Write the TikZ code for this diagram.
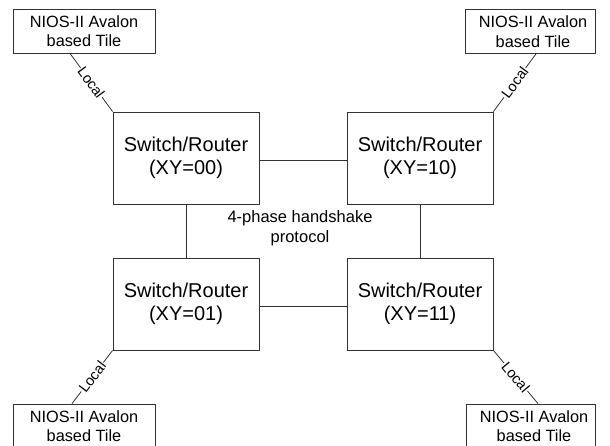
\documentclass[tikz,border=0pt]{standalone}
\usepackage{fontspec}
\setmainfont{Liberation Sans}
\begin{document}
\begin{tikzpicture}[x=1pt,y=-1pt,
  line/.style={draw=black!80,line width=0.8pt},
  tile/.style={line,rectangle,align=center,inner sep=0pt,font=\fontsize{16.3}{19.5}\selectfont},
  switchbox/.style={line,rectangle,align=center,inner sep=0pt,minimum width=146pt,minimum height=92pt,font=\fontsize{20}{23}\selectfont},
  loc/.style={sloped,fill=white,inner sep=0.8pt,font=\fontsize{14.5}{15}\selectfont},
  note/.style={align=center,inner sep=0pt,font=\fontsize{16.5}{19.5}\selectfont}]
\useasboundingbox (0,0) rectangle (610,446);
\clip (0,0) rectangle (610,446);
\fill[white] (0,0) rectangle (610,446);
% tiles
\node[tile,minimum width=142pt,minimum height=44pt] (t00) at (84,31) {NIOS-II Avalon\\based Tile};
\node[tile,minimum width=130pt,minimum height=44pt] (t10) at (530,31.5) {\hspace*{6pt}NIOS-II Avalon\\\hspace*{6pt}based Tile};
\node[tile,minimum width=142pt,minimum height=44pt] (t01) at (84,426) {NIOS-II Avalon\\based Tile};
\node[tile,minimum width=129pt,minimum height=44pt] (t11) at (531,426) {\hspace*{6pt}NIOS-II Avalon\\\hspace*{6pt}based Tile};
% switches
\node[switchbox] (s00) at (186,158) {Switch/Router\\(XY=00)};
\node[switchbox] (s10) at (420,158) {Switch/Router\\(XY=10)};
\node[switchbox] (s01) at (186,304) {Switch/Router\\(XY=01)};
\node[switchbox] (s11) at (420,304) {Switch/Router\\(XY=11)};
% mesh links
\draw[line] ([yshift=-2pt]s00.east) -- ([yshift=-2pt]s10.west);
\draw[line] ([yshift=-2pt]s01.east) -- ([yshift=-2pt]s11.west);
\draw[line] (s00.south) -- (s01.north);
\draw[line] (s10.south) -- (s11.north);
\node[note] (proto) at (300,228) {4-phase handshake\\protocol};
% local links
\draw[line] ([xshift=-14pt]t00.south) -- node[loc] {Local} (s00.north west);
\draw[line] ([xshift=6pt]t10.south) -- node[loc] {Local} (s10.north east);
\draw[line] ([xshift=-12pt]t01.north) -- node[loc] {Local} (s01.south west);
\draw[line] ([xshift=7pt]t11.north) -- node[loc] {Local} (s11.south east);
\end{tikzpicture}
\end{document}
